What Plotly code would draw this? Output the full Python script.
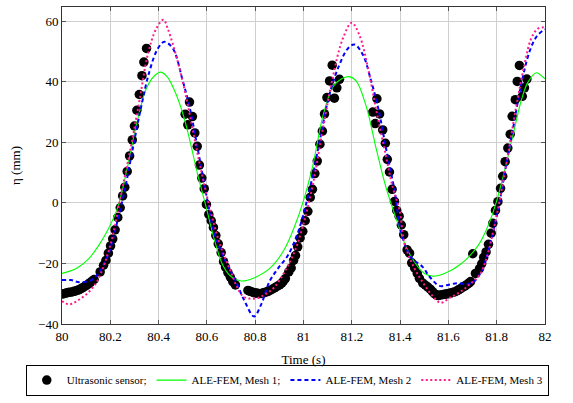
import plotly.graph_objects as go

# ---------------- data ----------------
sensor_t = [80.000, 80.008, 80.017, 80.025, 80.033, 80.042, 80.050, 80.059, 80.067, 80.075,
            80.084, 80.092, 80.100, 80.109, 80.117, 80.125, 80.133,
            80.158, 80.172, 80.182, 80.192, 80.201, 80.210, 80.220, 80.231, 80.241, 80.251,
            80.260, 80.270, 80.280, 80.291, 80.300, 80.310, 80.320, 80.331, 80.339, 80.350,
            80.510, 80.521, 80.528, 80.540, 80.550, 80.560, 80.569, 80.579, 80.589, 80.598,
            80.608, 80.618, 80.627, 80.637, 80.647, 80.659, 80.669, 80.677, 80.687, 80.697,
            80.707, 80.718,
            80.770, 80.779, 80.787, 80.797, 80.807, 80.816, 80.825, 80.834, 80.843, 80.851,
            80.859, 80.869, 80.880, 80.890, 80.901, 80.910, 80.917, 80.925,
            80.939, 80.949, 80.959, 80.967, 80.976, 80.986, 80.997, 81.007, 81.018, 81.028,
            81.037, 81.047, 81.057, 81.068, 81.078, 81.087, 81.097, 81.108, 81.119, 81.128,
            81.138, 81.149,
            81.287, 81.297, 81.304, 81.315, 81.328, 81.339, 81.347, 81.356, 81.367, 81.377,
            81.386, 81.396, 81.405, 81.415, 81.429, 81.439, 81.448, 81.460, 81.471, 81.480,
            81.494, 81.505, 81.515, 81.525, 81.534,
            81.542, 81.550, 81.558, 81.566, 81.575, 81.583, 81.591, 81.600, 81.609, 81.617,
            81.625, 81.634, 81.642, 81.651, 81.660, 81.669, 81.678, 81.685, 81.692,
            81.701, 81.712, 81.729, 81.738, 81.746, 81.756, 81.766, 81.777, 81.784, 81.795,
            81.805, 81.816, 81.825, 81.835, 81.846, 81.856, 81.864, 81.877, 81.885, 81.894,
            81.906, 81.915, 81.925]
sensor_eta = [-30.1, -30.0, -29.8, -29.6, -29.5, -29.4, -29.2, -29.0, -28.8, -28.5,
              -28.1, -27.7, -27.3, -26.8, -26.3, -25.8, -25.3,
              -22.8, -20.6, -19.0, -16.6, -14.2, -11.9, -8.9, -4.8, -1.6, 2.3,
              5.2, 10.4, 15.5, 20.8, 25.4, 30.6, 35.8, 42.0, 46.5, 51.0,
              29.3, 25.8, 33.3, 28.5, 23.1, 18.7, 12.5, 8.2, 4.7, -0.5,
              -3.8, -5.9, -8.1, -10.8, -13.5, -16.4, -19.4, -21.2, -23.0, -24.5,
              -26.0, -27.1,
              -28.9, -29.2, -29.4, -29.7, -29.8, -30.0, -29.9, -29.7, -29.5, -29.3,
              -29.0, -28.6, -28.1, -27.6, -27.1, -26.5, -25.8, -25.0,
              -22.8, -21.5, -19.0, -17.4, -14.5, -11.6, -9.4, -5.9, -2.8, 1.8,
              4.5, 9.7, 13.8, 19.4, 23.7, 29.4, 34.8, 40.3, 45.5, 34.6,
              38.0, 40.8,
              30.0, 26.2, 34.4, 29.4, 24.1, 19.7, 14.4, 10.2, 4.5, 0.5,
              -2.5, -4.4, -7.3, -10.5, -15.5, -16.6, -19.8, -21.5, -23.3, -24.9,
              -26.5, -27.2, -27.8, -28.5, -29.3,
              -30.0, -30.4, -30.6, -30.4, -30.3, -30.2, -30.1, -29.9, -29.8, -29.6,
              -29.4, -29.1, -28.7, -28.3, -27.8, -27.4, -26.9, -26.5, -26.0,
              -16.8, -23.3, -21.7, -20.1, -18.0, -16.2, -13.7, -10.0, -6.7, -2.5,
              0.4, 4.8, 8.8, 13.6, 18.1, 22.7, 28.6, 34.1, 40.1, 45.4,
              35.2, 38.0, 40.9]

mesh1_t = [80.000, 80.059, 80.110, 80.155, 80.197, 80.231, 80.273, 80.307, 80.349, 80.383,
           80.410, 80.438, 80.466, 80.500, 80.528, 80.562, 80.597, 80.631, 80.666, 80.701,
           80.742, 80.797, 80.866, 80.921, 80.963, 80.997, 81.039, 81.080, 81.121, 81.156,
           81.188, 81.218, 81.260, 81.301, 81.342, 81.390, 81.418, 81.460, 81.501, 81.535,
           81.584, 81.653, 81.722, 81.763, 81.798, 81.832, 81.867, 81.902, 81.929, 81.964,
           81.991, 82.000]
mesh1_eta = [-23.3, -21.7, -18.5, -13.7, -7.8, -1.4, 12.5, 25.4, 37.7, 42.0,
             43.2, 41.4, 37.1, 29.6, 21.1, 9.3, -1.4, -12.1, -20.6, -24.4,
             -25.8, -24.7, -21.2, -15.3, -7.8, 0.0, 12.5, 28.6, 38.2, 40.9,
             41.7, 40.3, 31.8, 17.9, 5.0, -6.7, -13.2, -19.6, -23.3, -24.2,
             -23.3, -20.1, -14.2, -7.8, 0.2, 10.4, 22.2, 33.9, 39.8, 43.0,
             41.6, 41.0]

mesh2_t = [80.000, 80.038, 80.072, 80.121, 80.155, 80.190, 80.224, 80.259, 80.293, 80.328,
           80.362, 80.397, 80.424, 80.459, 80.500, 80.528, 80.562, 80.597, 80.631, 80.673,
           80.714, 80.756, 80.795, 80.825, 80.859, 80.894, 80.935, 80.976, 81.011, 81.039,
           81.066, 81.108, 81.149, 81.184, 81.211, 81.246, 81.280, 81.308, 81.342, 81.377,
           81.405, 81.446, 81.494, 81.522, 81.563, 81.598, 81.639, 81.674, 81.708, 81.742,
           81.777, 81.805, 81.832, 81.867, 81.902, 81.936, 81.964, 81.991, 82.000]
mesh2_eta = [-25.5, -25.5, -26.2, -25.5, -22.8, -17.4, -7.8, 4.0, 17.9, 31.8,
             43.4, 51.0, 53.2, 51.0, 40.3, 31.8, 17.9, 2.9, -10.0, -18.5,
             -24.9, -32.4, -37.5, -33.5, -26.0, -21.7, -17.4, -10.0, -0.3, 9.3,
             20.0, 36.0, 45.7, 51.0, 52.3, 48.9, 40.3, 31.8, 17.9, 4.0,
             -10.0, -18.0, -21.2, -24.4, -27.4, -27.1, -26.5, -26.9, -25.8, -21.7,
             -12.1, -2.5, 9.3, 24.3, 39.3, 50.0, 54.8, 56.9, 57.3]

mesh3_t = [80.000, 80.031, 80.072, 80.114, 80.148, 80.200, 80.245, 80.286, 80.321, 80.355,
           80.390, 80.420, 80.438, 80.479, 80.514, 80.549, 80.583, 80.618, 80.652, 80.694,
           80.721, 80.749, 80.776, 80.811, 80.839, 80.880, 80.956, 80.997, 81.039, 81.080,
           81.121, 81.163, 81.200, 81.232, 81.267, 81.301, 81.335, 81.370, 81.398, 81.418,
           81.460, 81.501, 81.535, 81.568, 81.605, 81.653, 81.694, 81.729, 81.757, 81.784,
           81.812, 81.846, 81.881, 81.915, 81.943, 81.970, 81.995, 82.000]
mesh3_eta = [-32.4, -33.5, -31.9, -29.2, -25.5, -14.0, 2.9, 18.9, 33.9, 48.9,
             57.5, 60.5, 57.5, 46.8, 35.0, 21.1, 8.2, -3.5, -13.2, -21.7,
             -27.1, -30.8, -31.6, -31.4, -30.3, -27.8, -17.4, -7.8, 6.1, 24.3,
             41.4, 54.3, 59.5, 55.3, 44.6, 30.7, 17.9, 5.0, -2.5, -13.2,
             -21.7, -27.1, -30.8, -33.0, -31.4, -29.2, -26.5, -23.9, -18.5, -10.0,
             0.7, 15.7, 31.8, 45.7, 54.3, 57.5, 58.0, 58.0]

x_ticks = [80, 80.2, 80.4, 80.6, 80.8, 81, 81.2, 81.4, 81.6, 81.8, 82]
x_tick_labels = ["80", "80.2", "80.4", "80.6", "80.8", "81", "81.2", "81.4", "81.6", "81.8", "82"]
y_ticks = [-40, -20, 0, 20, 40, 60]

# ---------------- figure ----------------
FONT = "Liberation Serif"
fig = go.Figure()

fig.add_trace(go.Scatter(
    x=sensor_t, y=sensor_eta, mode="markers", name="Ultrasonic sensor;",
    marker=dict(color="black", size=9.5, line=dict(width=0)),
))
fig.add_trace(go.Scatter(
    x=mesh1_t, y=mesh1_eta, mode="lines", name="ALE-FEM, Mesh 1;",
    line=dict(color="#00ff00", width=1.1, shape="spline", smoothing=1.0),
))
fig.add_trace(go.Scatter(
    x=mesh2_t, y=mesh2_eta, mode="lines", name="ALE-FEM, Mesh 2",
    line=dict(color="#0000ff", width=2, dash="4px,3px", shape="spline", smoothing=1.0),
))
fig.add_trace(go.Scatter(
    x=mesh3_t, y=mesh3_eta, mode="lines", name="ALE-FEM, Mesh 3",
    line=dict(color="#ff1a8c", width=2, dash="2px,2.5px", shape="spline", smoothing=1.0),
))

axis_common = dict(
    showline=True, linecolor="#333333", linewidth=1, mirror="allticks",
    ticks="inside", ticklen=4, tickcolor="#555555", tickwidth=1,
    showgrid=True, gridcolor="#cfcfcf", gridwidth=1, zeroline=False,
    tickfont=dict(family=FONT, size=13, color="black"),
)

fig.update_layout(
    width=573, height=403,
    margin=dict(l=62, r=28, t=7, b=70),
    paper_bgcolor="white", plot_bgcolor="white",
    font=dict(family=FONT, size=13, color="black"),
    xaxis=dict(range=[80, 82], tickvals=x_ticks, ticktext=x_tick_labels,
               title=dict(text="Time (s)", font=dict(family=FONT, size=13), standoff=12),
               **axis_common),
    yaxis=dict(range=[-40, 64.7], tickvals=y_ticks,
               title=dict(text="η (mm)", font=dict(family=FONT, size=13), standoff=14),
               **axis_common),
    legend=dict(orientation="h", x=-0.075, xanchor="left",
                y=-0.128, yanchor="top",
                bordercolor="black", borderwidth=1, bgcolor="white",
                font=dict(family=FONT, size=11), itemwidth=30,
                tracegroupgap=0),
    showlegend=True,
)

fig.write_html("out.html", config={"displayModeBar": False},
               post_script="document.body.style.margin='0px';")
